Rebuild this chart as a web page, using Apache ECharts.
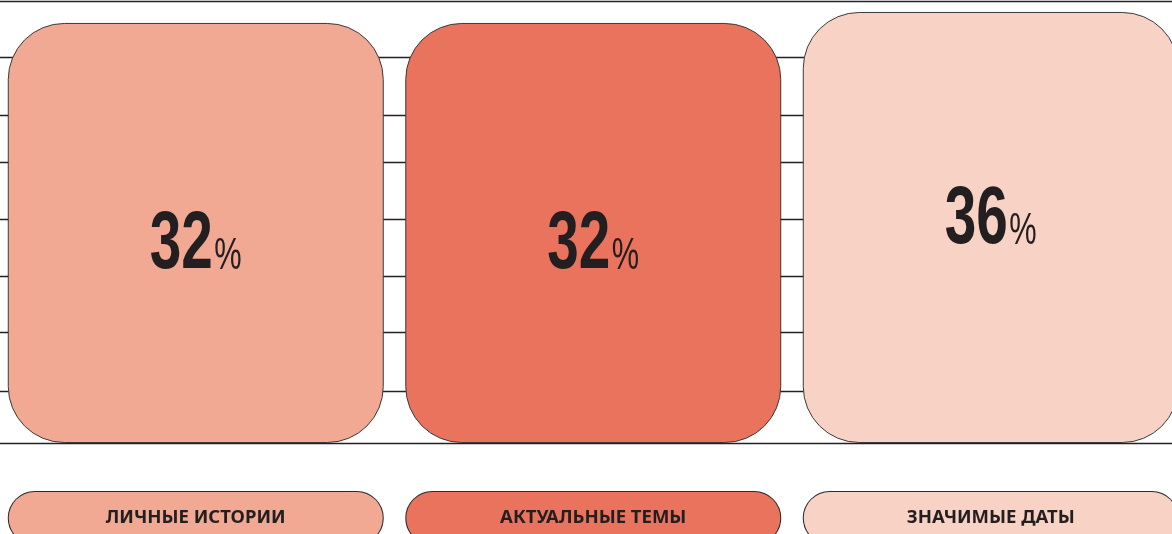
<!DOCTYPE html>
<html><head><meta charset="utf-8">
<script src="https://cdn.jsdelivr.net/npm/echarts@6/dist/echarts.min.js"></script>
<style>html,body{margin:0;padding:0;background:#fff}#c{width:1172px;height:534px}</style>
</head><body><div id="c"></div>
<script>
const categories = ['ЛИЧНЫЕ ИСТОРИИ', 'АКТУАЛЬНЫЕ ТЕМЫ', 'ЗНАЧИМЫЕ ДАТЫ'];
const shares = [32, 32, 36];
const guideLines = [40, 19.6, -1.5, -18.6, -39.4, -60.2, -80.6, -102.1];
const barColors = ['#F1A994', '#EA735D', '#F8D3C5'];

const ink = '#231f20';
const rich = {};
categories.forEach((c, i) => {
  rich['c' + i] = {
    backgroundColor: barColors[i], borderColor: '#2b2b2b', borderWidth: 1,
    borderRadius: 26, width: 374, height: 52, lineHeight: 52, align: 'center',
    fontSize: 18.5, fontWeight: 'bold', color: ink, fontFamily: '"Noto Sans", sans-serif'
  };
});

const numFont = '"Liberation Sans", Arial, sans-serif';

const chart = echarts.init(document.getElementById('c'), null, { renderer: 'canvas' });
chart.setOption({
  animation: false,
  backgroundColor: '#ffffff',
  grid: { left: -3, right: -17.5, top: 1, bottom: 91, containLabel: false, outerBoundsMode: 'none' },
  xAxis: {
    type: 'category', data: categories,
    axisLine: { onZero: false, lineStyle: { color: '#222', width: 1.3 } },
    axisTick: { show: false },
    axisLabel: {
      interval: 0, margin: 49,
      formatter: (v, i) => '{c' + i + '|' + v + '}',
      rich: rich
    }
  },
  yAxis: { type: 'value', min: -121, max: 40, startValue: -121, show: false, splitLine: { show: false } },
  series: [
    {
      type: 'line', data: [], z: 1, silent: true,
      markLine: {
        silent: true, symbol: ['none', 'none'], z: 1,
        label: { show: false },
        lineStyle: { color: '#222', width: 1.3, type: 'solid' },
        data: guideLines.map(v => ({ yAxis: v }))
      }
    },
    {
      type: 'bar', z: 3, barWidth: 376,
      data: shares.map((v, i) => ({ value: v, itemStyle: { color: barColors[i] } })),
      itemStyle: { borderColor: '#3a3a3a', borderWidth: 1, borderRadius: 56 },
      label: { show: false }
    },
    {
      type: 'custom', z: 5, silent: true,
      data: shares.map((v, i) => [i, v]),
      encode: { x: 0, y: 1 },
      renderItem: (params, api) => {
        const i = api.value(0);
        const pt = api.coord([i, api.value(1)]);
        const dy = params.dataIndex === 2 ? 209 : 223;
        return {
          type: 'text', x: pt[0], y: pt[1] + dy, scaleX: 0.7,
          style: {
            text: '{n|' + api.value(1) + '}{p|%}',
            align: 'center', verticalAlign: 'middle',
            rich: {
              n: { fontSize: 81, fontWeight: 'bold', fill: ink, fontFamily: numFont, lineHeight: 81, verticalAlign: 'bottom' },
              p: { fontSize: 44, fontWeight: 'normal', fill: ink, fontFamily: numFont, lineHeight: 44, verticalAlign: 'bottom', padding: [0, 0, 8, 2] }
            }
          }
        };
      }
    }
  ]
});
</script></body></html>
